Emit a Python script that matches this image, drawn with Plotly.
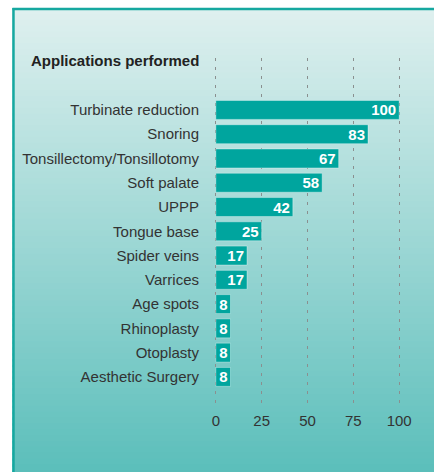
import plotly.graph_objects as go

categories = ["Turbinate reduction", "Snoring", "Tonsillectomy/Tonsillotomy", "Soft palate",
              "UPPP", "Tongue base", "Spider veins", "Varrices", "Age spots", "Rhinoplasty",
              "Otoplasty", "Aesthetic Surgery"]
values = [100, 83, 67, 58, 42, 25, 17, 17, 8, 8, 8, 8]
tick_vals = [0, 25, 50, 75, 100]
title_text = "Applications performed"

W, H = 434, 472
L, R = 214.17, 434 - 400.83
T, B = 58.0, 472 - 407.0
pw = W - L - R
ph = H - T - B

def px_x(px):
    return (px - L) / pw

def px_y(py):
    return (H - B - py) / ph

fig = go.Figure()
fig.add_trace(go.Bar(
    x=values, y=categories, orientation="h",
    marker=dict(color="#00a59e", line=dict(color="rgba(255,255,255,0.35)", width=1)),
    width=0.78,
    text=[str(v) for v in values], textposition="inside", insidetextanchor="end",
    textangle=0, constraintext="none",
    textfont=dict(color="white", size=15, family="Liberation Sans", weight="bold"),
    cliponaxis=False,
))

shapes = []
top_c = (223, 240, 239)
bot_c = (90, 190, 186)
N = 80
y0p, y1p = 8.0, 476.0
for i in range(N):
    a = y0p + (y1p - y0p) * i / N
    b = y0p + (y1p - y0p) * (i + 1) / N + 2.5
    t = (i + 0.5) / N
    c = tuple(round(top_c[k] + (bot_c[k] - top_c[k]) * t) for k in range(3))
    shapes.append(dict(type="rect", xref="paper", yref="paper", layer="below",
                       x0=px_x(13), x1=px_x(440), y0=px_y(min(b, 476)), y1=px_y(a),
                       fillcolor="rgb(%d,%d,%d)" % c, line=dict(width=0)))
# border top and left
shapes.append(dict(type="line", xref="paper", yref="paper", layer="below",
                   x0=px_x(13), x1=px_x(440), y0=px_y(9), y1=px_y(9),
                   line=dict(color="#16a8a0", width=2.5)))
shapes.append(dict(type="line", xref="paper", yref="paper", layer="below",
                   x0=px_x(14), x1=px_x(14), y0=px_y(8), y1=px_y(476),
                   line=dict(color="#16a8a0", width=2.5)))

fig.update_layout(
    width=W, height=H,
    margin=dict(l=L, r=R, t=T, b=B),
    paper_bgcolor="white", plot_bgcolor="rgba(0,0,0,0)",
    showlegend=False,
    shapes=shapes,
    font=dict(family="Liberation Sans", size=15, color="#333333"),
    xaxis=dict(range=[-1, 101], tickvals=tick_vals, ticktext=[str(v) for v in tick_vals],
               showgrid=True, gridcolor="#8a8f8f", griddash="3px,6px", gridwidth=1,
               zeroline=False, showline=False, ticks="", fixedrange=True,
               ticklabelstandoff=3,
               tickfont=dict(size=15, color="#333333")),
    yaxis=dict(type="category", categoryorder="array", categoryarray=categories,
               range=[12.24, -2.14], showgrid=False, zeroline=False, showline=False,
               ticks="", ticklabelstandoff=14, tickfont=dict(size=15, color="#333333")),
    annotations=[dict(text="<b>" + title_text + "</b>", xref="paper", yref="paper",
                      x=px_x(201), y=px_y(61), xanchor="right", yanchor="middle",
                      showarrow=False, font=dict(size=15, color="#222222"))],
    bargap=0.2,
)

fig.write_html("out.html", config={"displayModeBar": False},
               post_script="document.body.style.margin='0';document.body.style.overflow='hidden';")
